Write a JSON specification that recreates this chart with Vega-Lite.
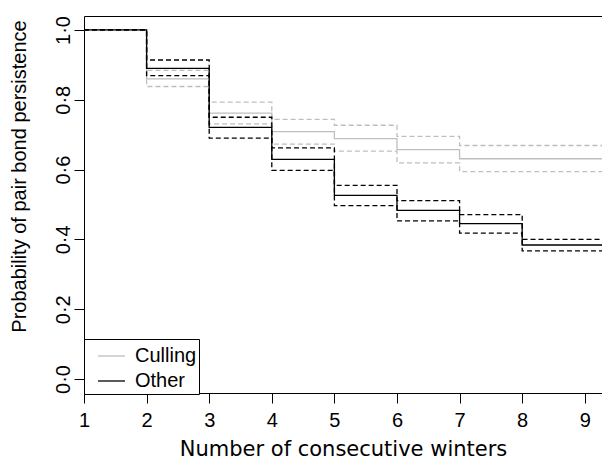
{
  "$schema": "https://vega.github.io/schema/vega-lite/v6.json",
  "width": 518,
  "height": 377,
  "autosize": {"type": "none"},
  "padding": {"left": 84, "top": 16, "right": 0, "bottom": 67},
  "background": "white",
  "config": {
    "view": {"stroke": null},
    "axis": {"domainColor": "black", "tickColor": "black", "labelColor": "black", "titleColor": "black", "grid": false, "domainWidth": 1, "tickWidth": 1}
  },
  "data": {
    "values": [
      {"group": "Culling", "band": "est", "x": 1, "y": 1.0},
      {"group": "Culling", "band": "est", "x": 2, "y": 0.860},
      {"group": "Culling", "band": "est", "x": 3, "y": 0.762},
      {"group": "Culling", "band": "est", "x": 4, "y": 0.709},
      {"group": "Culling", "band": "est", "x": 5, "y": 0.689},
      {"group": "Culling", "band": "est", "x": 6, "y": 0.657},
      {"group": "Culling", "band": "est", "x": 7, "y": 0.631},
      {"group": "Culling", "band": "est", "x": 8, "y": 0.631},
      {"group": "Culling", "band": "est", "x": 9.275, "y": 0.631},
      {"group": "Culling", "band": "hi", "x": 1, "y": 1.0},
      {"group": "Culling", "band": "hi", "x": 2, "y": 0.884},
      {"group": "Culling", "band": "hi", "x": 3, "y": 0.793},
      {"group": "Culling", "band": "hi", "x": 4, "y": 0.744},
      {"group": "Culling", "band": "hi", "x": 5, "y": 0.727},
      {"group": "Culling", "band": "hi", "x": 6, "y": 0.695},
      {"group": "Culling", "band": "hi", "x": 7, "y": 0.669},
      {"group": "Culling", "band": "hi", "x": 8, "y": 0.669},
      {"group": "Culling", "band": "hi", "x": 9.275, "y": 0.669},
      {"group": "Culling", "band": "lo", "x": 1, "y": 1.0},
      {"group": "Culling", "band": "lo", "x": 2, "y": 0.838},
      {"group": "Culling", "band": "lo", "x": 3, "y": 0.731},
      {"group": "Culling", "band": "lo", "x": 4, "y": 0.673},
      {"group": "Culling", "band": "lo", "x": 5, "y": 0.653},
      {"group": "Culling", "band": "lo", "x": 6, "y": 0.619},
      {"group": "Culling", "band": "lo", "x": 7, "y": 0.594},
      {"group": "Culling", "band": "lo", "x": 8, "y": 0.594},
      {"group": "Culling", "band": "lo", "x": 9.275, "y": 0.594},
      {"group": "Other", "band": "est", "x": 1, "y": 1.0},
      {"group": "Other", "band": "est", "x": 2, "y": 0.890},
      {"group": "Other", "band": "est", "x": 3, "y": 0.721},
      {"group": "Other", "band": "est", "x": 4, "y": 0.629},
      {"group": "Other", "band": "est", "x": 5, "y": 0.526},
      {"group": "Other", "band": "est", "x": 6, "y": 0.483},
      {"group": "Other", "band": "est", "x": 7, "y": 0.445},
      {"group": "Other", "band": "est", "x": 8, "y": 0.384},
      {"group": "Other", "band": "est", "x": 9.275, "y": 0.384},
      {"group": "Other", "band": "hi", "x": 1, "y": 1.0},
      {"group": "Other", "band": "hi", "x": 2, "y": 0.914},
      {"group": "Other", "band": "hi", "x": 3, "y": 0.750},
      {"group": "Other", "band": "hi", "x": 4, "y": 0.662},
      {"group": "Other", "band": "hi", "x": 5, "y": 0.555},
      {"group": "Other", "band": "hi", "x": 6, "y": 0.511},
      {"group": "Other", "band": "hi", "x": 7, "y": 0.471},
      {"group": "Other", "band": "hi", "x": 8, "y": 0.400},
      {"group": "Other", "band": "hi", "x": 9.275, "y": 0.400},
      {"group": "Other", "band": "lo", "x": 1, "y": 1.0},
      {"group": "Other", "band": "lo", "x": 2, "y": 0.869},
      {"group": "Other", "band": "lo", "x": 3, "y": 0.690},
      {"group": "Other", "band": "lo", "x": 4, "y": 0.598},
      {"group": "Other", "band": "lo", "x": 5, "y": 0.497},
      {"group": "Other", "band": "lo", "x": 6, "y": 0.453},
      {"group": "Other", "band": "lo", "x": 7, "y": 0.418},
      {"group": "Other", "band": "lo", "x": 8, "y": 0.367},
      {"group": "Other", "band": "lo", "x": 9.275, "y": 0.367}
    ]
  },
  "encoding": {
    "y": {
      "field": "y",
      "type": "quantitative",
      "scale": {"domain": [-0.04, 1.04], "nice": false, "zero": false},
      "axis": {
        "values": [0, 0.2, 0.4, 0.6, 0.8, 1],
        "labelExpr": "replace(format(datum.value, '.1f'), '.', '·')",
        "labelAngle": -90,
        "labelAlign": "center",
        "labelBaseline": "alphabetic",
        "labelPadding": 5,
        "tickSize": 10,
        "labelFont": "Liberation Sans",
        "labelFontSize": 20,
        "title": "Probability of pair bond persistence",
        "titleFont": "Liberation Sans",
        "titleFontSize": 20,
        "titleFontWeight": "normal",
        "titleAngle": -90,
        "titleAlign": "center",
        "titleBaseline": "alphabetic",
        "titleX": -59,
        "titleY": 160
      }
    }
  },
  "layer": [
    {
      "mark": {"type": "line", "interpolate": "step-after", "strokeWidth": 1.3, "clip": true},
      "encoding": {
        "x": {
          "field": "x",
          "type": "quantitative",
          "scale": {"domain": [1, 9.275], "nice": false, "zero": false},
          "axis": {
            "orient": "bottom",
            "values": [1, 2, 3, 4, 5, 6, 7, 8, 9],
            "format": "d",
            "tickSize": 10,
            "labelFont": "Liberation Sans",
            "labelFontSize": 20,
            "labelBaseline": "top",
            "labelPadding": 7,
            "labelFlush": false,
            "labelOverlap": false,
            "title": "Number of consecutive winters",
            "titleFont": "DejaVu Sans",
            "titleFontSize": 21,
            "titleFontWeight": "normal",
            "titleBaseline": "alphabetic",
            "titleY": 62,
            "titleX": 259
          }
        },
        "color": {
          "field": "group",
          "type": "nominal",
          "scale": {"domain": ["Culling", "Other"], "range": ["#bebebe", "#000000"]},
          "legend": {
            "title": null,
            "orient": "none",
            "legendX": 0,
            "legendY": 323,
            "strokeColor": "black",
            "fillColor": "white",
            "padding": 2.5,
            "symbolType": "stroke",
            "symbolSize": 729,
            "symbolStrokeWidth": 1.3,
            "symbolOffset": 10.5,
            "labelFont": "Liberation Sans",
            "labelFontSize": 20,
            "labelColor": "black",
            "labelOffset": 9,
            "rowPadding": -5
          }
        },
        "strokeDash": {
          "field": "band",
          "type": "nominal",
          "scale": {"domain": ["est", "hi", "lo"], "range": [[1, 0], [5, 3], [5, 3]]},
          "legend": null
        },
        "detail": {"field": "band"}
      }
    },
    {
      "mark": {"type": "line", "strokeOpacity": 0},
      "encoding": {
        "x": {
          "field": "x",
          "type": "quantitative",
          "axis": {"orient": "top", "domain": true, "ticks": false, "labels": false, "title": null}
        },
        "detail": {"field": "band"}
      }
    }
  ],
  "resolve": {"axis": {"x": "independent"}}
}
